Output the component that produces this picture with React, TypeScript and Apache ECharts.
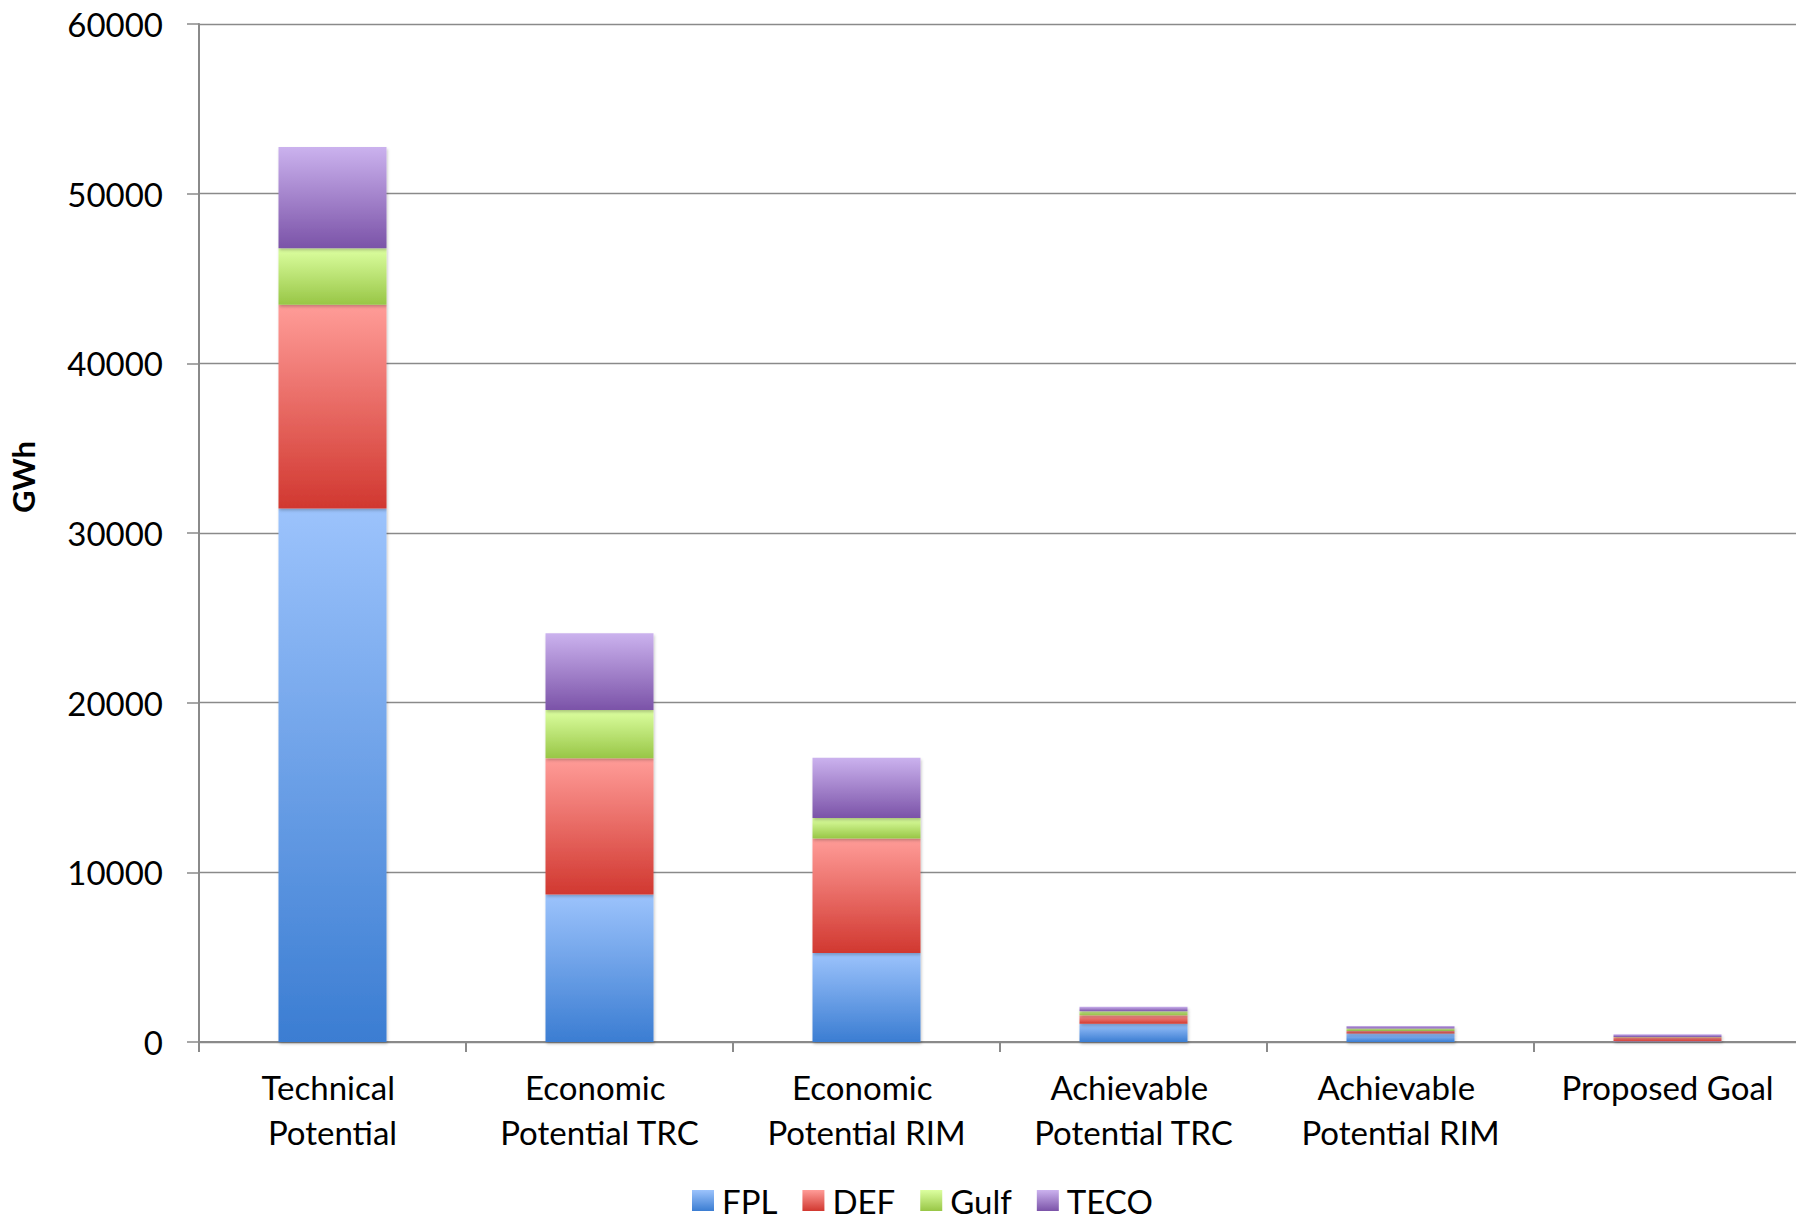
import React, { useEffect, useRef } from "react";
import * as echarts from "echarts";

const categories = [
  "Technical Potential",
  "Economic Potential TRC",
  "Economic Potential RIM",
  "Achievable Potential TRC",
  "Achievable Potential RIM",
  "Proposed Goal",
];
const fpl = [31450, 8700, 5250, 1080, 500, 40];
const def = [12010, 8020, 6750, 500, 150, 240];
const gulf = [3330, 2850, 1200, 230, 140, 20];
const teco = [5960, 4520, 3560, 270, 150, 150];
const yTicks = { min: 0, max: 60000, interval: 10000 };
const yTitle = "GWh";

const grad = (top: string, bottom: string) =>
  new echarts.graphic.LinearGradient(0, 0, 0, 1, [
    { offset: 0, color: top },
    { offset: 1, color: bottom },
  ]);

const FONT = "Lato";

export default function App() {
  const ref = useRef<HTMLDivElement>(null);
  useEffect(() => {
    if (!ref.current) return;
    const chart = echarts.init(ref.current, null, { renderer: "svg" });
    const mk = (name: string, data: number[], top: string, bottom: string) => ({
      name,
      type: "bar",
      stack: "total",
      barWidth: 108,
      data,
      itemStyle: {
        color: grad(top, bottom),
        shadowColor: "rgba(0,0,0,0.22)",
        shadowBlur: 3,
        shadowOffsetX: 1,
        shadowOffsetY: 2,
      },
      emphasis: { disabled: true },
    });
    chart.setOption({
      animation: false,
      textStyle: { fontFamily: FONT },
      grid: { left: 199, top: 24, width: 1602, height: 1018, containLabel: false },
      legend: {
        left: 687,
        top: 1179,
        itemWidth: 22,
        itemHeight: 21,
        itemGap: 25,
        icon: "rect",
        textStyle: { fontSize: 33, color: "#000", fontFamily: FONT, padding: [0, 0, 0, 3] },
        data: ["FPL", "DEF", "Gulf", "TECO"],
      },
      xAxis: {
        type: "category",
        data: categories,
        boundaryGap: true,
        axisLine: { lineStyle: { color: "#8a8a8a", width: 2 } },
        axisTick: { show: true, length: 10, lineStyle: { color: "#8a8a8a", width: 2 } },
        axisLabel: {
          interval: 0,
          fontSize: 33,
          color: "#000",
          fontFamily: FONT,
          lineHeight: 45,
          margin: 22,
          width: 240,
          overflow: "break",
        },
      },
      yAxis: {
        type: "value",
        min: yTicks.min,
        max: yTicks.max,
        interval: yTicks.interval,
        axisLine: { show: true, lineStyle: { color: "#8a8a8a", width: 2 } },
        axisTick: { show: true, length: 12, lineStyle: { color: "#8a8a8a", width: 1.5 } },
        splitLine: { show: true, lineStyle: { color: "#8a8a8a", width: 1.4 } },
        axisLabel: {
          fontSize: 33,
          color: "#000",
          fontFamily: FONT,
          margin: 36,
          formatter: (v: number) => String(v),
        },
      },
      graphic: [
        {
          type: "text",
          x: 23,
          y: 477,
          rotation: Math.PI / 2,
          style: {
            text: yTitle,
            fontSize: 31,
            fontWeight: "bold",
            fontFamily: FONT,
            fill: "#000",
            align: "center",
            verticalAlign: "middle",
          },
        },
      ],
      series: [
        mk("FPL", fpl, "#9cc3fc", "#3b7dd2"),
        mk("DEF", def, "#ff9c98", "#d13830"),
        mk("Gulf", gulf, "#dcffa0", "#98c646"),
        mk("TECO", teco, "#cbb2ee", "#7b53a8"),
      ],
    });
    return () => chart.dispose();
  }, []);
  return (
    <div
      style={{
        position: "absolute",
        left: 0,
        top: 0,
        width: 1796,
        height: 1225,
        overflow: "hidden",
        background: "#fff",
      }}
    >
      <div ref={ref} style={{ width: 1812, height: 1225 }} />
    </div>
  );
}
